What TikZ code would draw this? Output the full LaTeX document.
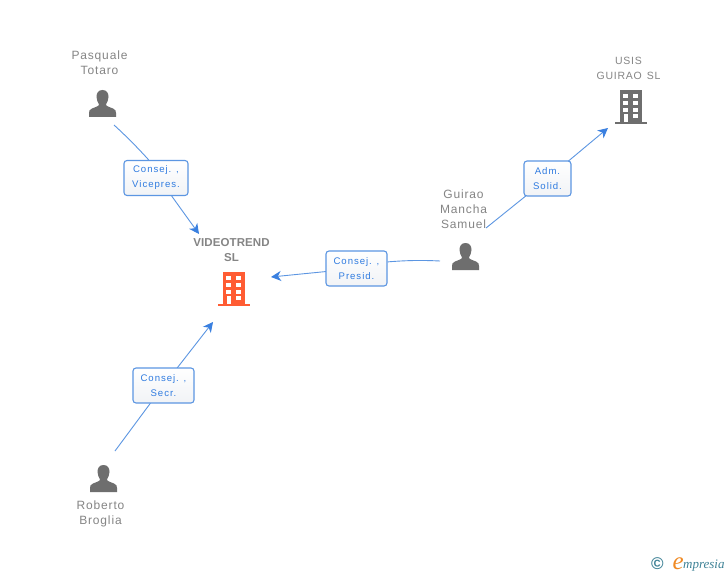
\documentclass[tikz,border=0pt]{standalone}
\usepackage{fontspec}
\setmainfont{Liberation Sans}
\newfontfamily\lblfont[LetterSpace=7]{Liberation Sans}
\newfontfamily\rolefont[LetterSpace=10]{Liberation Sans}
\newfontfamily\boldlbl[LetterSpace=1]{Liberation Sans}
\newfontfamily\logofont{Liberation Serif}
\usetikzlibrary{arrows.meta,backgrounds}
\definecolor{iconGrey}{HTML}{6E6E6E}
\definecolor{textGrey}{HTML}{858585}
\definecolor{lineBlue}{HTML}{5C96E2}
\definecolor{tipBlue}{HTML}{3A80E0}
\definecolor{roleBlue}{HTML}{2F7BE0}
\definecolor{boxShade}{HTML}{F1F3F6}
\definecolor{bldgRed}{HTML}{FF5C33}
\definecolor{logoBlue}{HTML}{3E8296}
\definecolor{logoOrange}{HTML}{F08A24}
\tikzset{
  x=1pt,y=-1pt,
  namelabel/.style={text=textGrey,align=center,inner sep=0pt,font=\lblfont\fontsize{12}{15}\selectfont},
  smalllabel/.style={namelabel,font=\lblfont\fontsize{10.5}{14.5}\selectfont},
  mainlabel/.style={text=textGrey,align=center,inner sep=0pt,font=\boldlbl\bfseries\fontsize{11.5}{15}\selectfont},
  rolebox/.style={draw=lineBlue,line width=1.1pt,rounded corners=3pt,top color=white,bottom color=boxShade,
    text=roleBlue,align=center,inner sep=0pt,minimum height=35pt,font=\rolefont\fontsize{9.6}{15}\selectfont},
  link/.style={draw=lineBlue,line width=0.9pt},
  linkarrow/.style={link,-{Stealth[length=10pt,width=10pt,inset=3pt,color=tipBlue]}},
  pics/personicon/.style={code={
    \fill[iconGrey] (13.5,0) .. controls (9,0) and (7.5,3.5) .. (7.5,7)
      .. controls (7.5,10) and (9,12.5) .. (10,14.5) .. controls (10,16.5) and (6,17) .. (3,18.5)
      .. controls (0.5,19.5) and (0,21) .. (0,23) -- (0,27) -- (27,27) -- (27,23)
      .. controls (27,21) and (26.5,19.5) .. (24,18.5) .. controls (21,17) and (17,16.5) .. (17,14.5)
      .. controls (18,12.5) and (19.5,10) .. (19.5,7) .. controls (19.5,3.5) and (18,0) .. (13.5,0) -- cycle;
  }},
  pics/bldgicon/.style={code={
    \fill[#1] (5,0) rectangle (27,32);
    \fill[#1] (0,32) rectangle (32,34);
    \foreach \yy in {4.3,11,17.7}{
      \fill[white] (8.3,\yy) rectangle ++(5,4);
      \fill[white] (18.3,\yy) rectangle ++(5,4);
    }
    \fill[white] (8.8,24.4) rectangle (13.3,32);
    \fill[white] (18.3,24.4) rectangle ++(5,4);
  }},
}
\begin{document}
\begin{tikzpicture}
\useasboundingbox (0,0) rectangle (728,575);
% icons
\pic (iconPasquale) at (89,90) {personicon};
\pic (iconGuirao) at (452,243) {personicon};
\pic (iconRoberto) at (90,465) {personicon};
\pic (iconMain) at (218,272) {bldgicon=bldgRed};
\pic (iconUsis) at (615,90) {bldgicon=iconGrey};
% labels
\node[namelabel] (lblPasquale) at (99.5,63) {Pasquale\\Totaro};
\node[namelabel] (lblGuirao) at (463.5,209) {Guirao\\Mancha\\Samuel};
\node[namelabel] (lblRoberto) at (100.5,513.5) {Roberto\\Broglia};
\node[smalllabel] (lblUsis) at (628.5,68.5) {USIS\\GUIRAO\hspace{5pt}SL};
\node[mainlabel] (lblMain) at (231.5,250) {VIDEOTREND\\SL};
% role boxes
\node[rolebox,minimum width=64pt] (boxVice) at (156,178) {Consej. ,\\Vicepres.};
\node[rolebox,minimum width=61pt] (boxPresid) at (356.5,268.5) {Consej. ,\\Presid.};
\node[rolebox,minimum width=47pt] (boxAdm) at (547.5,178.5) {Adm.\\Solid.};
\node[rolebox,minimum width=61pt] (boxSecr) at (163.5,385.5) {Consej. ,\\Secr.};
% connector ends
\coordinate (fromPasquale) at (114,125);
\coordinate (toMainA) at (199,234);
\coordinate (fromGuirao) at (440,261);
\coordinate (toMainB) at (271,277);
\coordinate (fromGuiraoB) at (486,228);
\coordinate (toUsis) at (608,128);
\coordinate (fromRoberto) at (115,451);
\coordinate (toMainC) at (213,322);
\begin{scope}[on background layer]
  \fill[white] (0,0) rectangle (728,575);
  \draw[link] (fromPasquale) .. controls (125,135) and (138,148) .. (boxVice.112);
  \draw[linkarrow] (boxVice.-49) -- (toMainA);
  \draw[link] (fromGuirao) .. controls (420,260) and (405,260.5) .. (boxPresid.12);
  \draw[linkarrow] (boxPresid.center) -- (toMainB);
  \draw[link] (fromGuiraoB) -- (boxAdm.center);
  \draw[linkarrow] (boxAdm.center) -- (toUsis);
  \draw[link] (fromRoberto) -- (boxSecr.center);
  \draw[linkarrow] (boxSecr.center) -- (toMainC);
\end{scope}
% logo
\node[text=logoBlue,inner sep=0pt,font=\bfseries\fontsize{17}{17}\selectfont] (logoC) at (657.5,564) {©};
\node[text=logoOrange,inner sep=0pt,anchor=base east,font=\logofont\itshape\fontsize{25}{25}\selectfont] (logoE) at (684,569) {e};
\node[text=logoBlue,inner sep=0pt,anchor=base west,font=\logofont\itshape\fontsize{13}{13}\selectfont] (logoText) at (683,568) {mpresia};
\end{tikzpicture}
\end{document}
